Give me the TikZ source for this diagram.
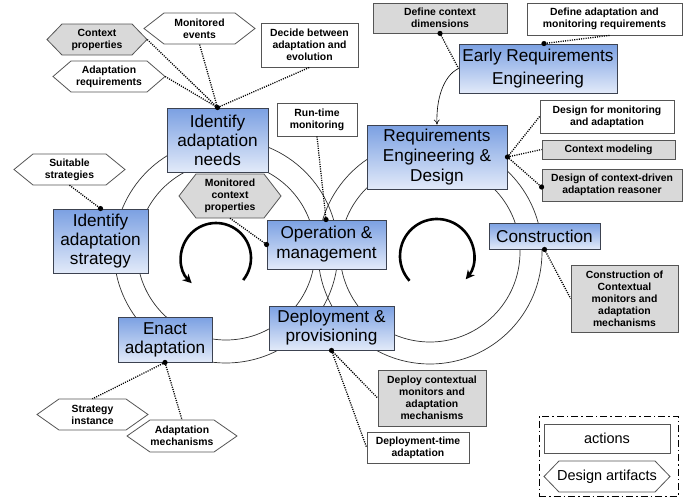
\documentclass[tikz,border=0pt]{standalone}
\usepackage{fontspec}
\setmainfont{Liberation Sans}
\usetikzlibrary{arrows.meta,calc}
\definecolor{bluetop}{HTML}{7BA0E2}
\definecolor{bluebot}{HTML}{E2EAF9}
\definecolor{grayfill}{HTML}{D9D9D9}
\definecolor{bordergray}{HTML}{555555}
\definecolor{blueborder}{HTML}{3C4250}
\definecolor{ringcol}{HTML}{303030}
\tikzset{
  bluebox/.style={draw=blueborder,line width=0.9pt,top color=bluetop,bottom color=bluebot,
    inner sep=0pt,align=center,font={\fontsize{17.2}{19}\selectfont}},
  actbox/.style={draw=bordergray,line width=0.8pt,fill=white,inner sep=0pt,align=center,
    font={\fontsize{10.4}{12}\selectfont\bfseries}},
  grayact/.style={actbox,fill=grayfill},
  hexshape/.style={draw=bordergray,line width=0.8pt},
  hextext/.style={inner sep=0pt,align=center,font={\fontsize{10.4}{12}\selectfont\bfseries}},
  ring/.style={draw=ringcol,line width=0.7pt},
  dotline/.style={line width=1.3pt,dash pattern=on 1.1pt off 1.2pt},
  endpt/.style={fill=black},
  bigarrow/.style={line width=2.6pt,-{Stealth[length=9pt,width=9pt]}},
  legframe/.style={draw=black,line width=0.8pt,dash pattern=on 7pt off 3pt on 1.5pt off 3pt,inner sep=0pt}
}
\newcommand\hexnode[8]{%
  \path[hexshape,fill=#7] ({#2-#4/2},#3) -- ({#2-#4/2+#6},{#3-#5/2}) -- ({#2+#4/2-#6},{#3-#5/2})
     -- ({#2+#4/2},#3) -- ({#2+#4/2-#6},{#3+#5/2}) -- ({#2-#4/2+#6},{#3+#5/2}) -- cycle;
  \node[hextext,minimum width=#4,minimum height=#5] (#1) at (#2,#3) {#8};}
\newcommand\pindot[1]{\fill[endpt] (#1) circle[radius=2.6];}
\begin{document}
\begin{tikzpicture}[x=1pt,y=-1pt]
\useasboundingbox (0,0) rectangle (696,498);
% rings
\draw[ring] (226,251) circle[radius=112];
\draw[ring] (226,251) circle[radius=89];
\draw[ring] (430,252) circle[radius=112];
\draw[ring] (430,252) circle[radius=90];
% big cycle arrows
\draw[bigarrow] ([shift={(39:35)}]216,258) arc[start angle=39,end angle=-226,radius=35];
\draw[bigarrow] ([shift={(138:37)}]437,256) arc[start angle=138,end angle=399,radius=37];
% main phases
\node[bluebox,minimum width=158,minimum height=49,font={\fontsize{17.2}{23}\selectfont}] (ere) at (538,68.5) {Early Requirements\\Engineering};
\node[bluebox,minimum width=140,minimum height=64,font={\fontsize{17.2}{20}\selectfont}] (red) at (437,157) {Requirements\\Engineering \&\\Design};
\node[bluebox,minimum width=101,minimum height=64] (ian) at (217.5,140) {Identify\\adaptation\\needs};
\node[bluebox,minimum width=95,minimum height=64] (ias) at (100.5,241) {Identify\\adaptation\\strategy};
\node[bluebox,minimum width=119,minimum height=49,font={\fontsize{17.2}{20}\selectfont}] (om) at (326.5,244.5) {Operation \&\\management};
\node[bluebox,minimum width=125,minimum height=44] (dp) at (331.5,328) {Deployment \&\\provisioning};
\node[bluebox,minimum width=94,minimum height=45] (ea) at (165,339.5) {Enact\\adaptation};
\node[bluebox,minimum width=111,minimum height=26] (con) at (544.5,236) {Construction};
% actions
\node[actbox,minimum width=97,minimum height=44] (dec) at (309.5,45) {Decide between\\adaptation and\\evolution};
\node[actbox,minimum width=80,minimum height=33] (rtm) at (317,119.5) {Run-time\\monitoring};
\node[grayact,minimum width=134,minimum height=30] (dcd) at (440,18) {Define context\\dimensions};
\node[actbox,minimum width=155,minimum height=32] (damr) at (604.5,19) {Define adaptation and\\monitoring requirements};
\node[actbox,minimum width=134,minimum height=33] (dfm) at (607,116.5) {Design for monitoring\\and adaptation};
\node[grayact,minimum width=133,minimum height=19] (cm) at (608.5,149.5) {Context modeling};
\node[grayact,minimum width=140,minimum height=32] (dcr) at (612,185) {Design of context-driven\\adaptation reasoner};
\node[grayact,minimum width=107,minimum height=67] (cocm) at (624.5,298.5) {Construction of\\Contextual\\monitors and\\adaptation\\mechanisms};
\node[grayact,minimum width=108,minimum height=56] (dcm) at (432,398) {Deploy contextual\\monitors and\\adaptation\\mechanisms};
\node[actbox,minimum width=102,minimum height=31] (dta) at (418,447.5) {Deployment-time\\adaptation};
% design artifacts
\hexnode{cp}{97}{39.5}{100}{31}{15}{grayfill}{Context\\properties}
\hexnode{me}{199.5}{28.5}{111}{31}{20}{white}{Monitored\\events}
\hexnode{ar}{109}{76.5}{112}{31}{18}{white}{Adaptation\\requirements}
\hexnode{ss}{69.5}{169.5}{111}{31}{19}{white}{Suitable\\strategies}
\hexnode{mcp}{230}{196}{102}{44}{17}{grayfill}{Monitored\\context\\properties}
\hexnode{si}{92.5}{414.5}{111}{31}{22}{white}{Strategy\\instance}
\hexnode{am}{182}{436}{110}{32}{23}{white}{Adaptation\\mechanisms}
% connectors
\draw[dotline] (ian.north) -- (cp.east);
\draw[dotline] (ian.north) -- (me.south);
\draw[dotline] (ian.north) -- (ar.east);
\draw[dotline] (ian.north) -- (dec.south);
\pindot{ian.north}
\draw[dotline] (rtm.south) -- ([xshift=-0.5pt]om.north);
\pindot{[xshift=-0.5pt]om.north}
\draw[dotline] (mcp.south) -- (om.west);
\pindot{om.west}
\draw[dotline] (ss.south) -- (ias.north);
\pindot{ias.north}
\draw[dotline] (ea.south) -- (si.north);
\draw[dotline] (ea.south) -- (am.north);
\pindot{ea.south}
\draw[dotline] (dp.south) -- (dcm.west);
\draw[dotline] (dp.south) -- (dta.west);
\pindot{dp.south}
\draw[dotline] (con.south) -- (cocm.west);
\pindot{con.south}
\draw[dotline] (red.east) -- (dfm.west);
\draw[dotline] (red.east) -- (cm.west);
\draw[dotline] (red.east) -- ([yshift=-2pt]dcr.west);
\pindot{red.east}
\pindot{[yshift=-2pt]dcr.west}
\draw[dotline] (dcd.south) -- (ere.west);
\pindot{dcd.south}
\draw[dotline] ([xshift=5pt]damr.south) -- ([xshift=6pt]ere.north);
\pindot{[xshift=6pt]ere.north}
\draw[line width=0.6pt,-{To[length=5pt,width=6pt]}] (ere.west) .. controls (443,76) and (436,100) .. (red.north);
% legend
\node[legframe,minimum width=139,minimum height=80] (leg) at (608.5,456) {};
\node[actbox,minimum width=126,minimum height=29,font={\fontsize{14.5}{17}\selectfont}] (lact) at (607,438.5) {actions};
\hexnode{lart}{607}{476.5}{126}{31}{15}{white}{\fontsize{14.5}{17}\selectfont\mdseries Design artifacts}
\end{tikzpicture}
\end{document}
